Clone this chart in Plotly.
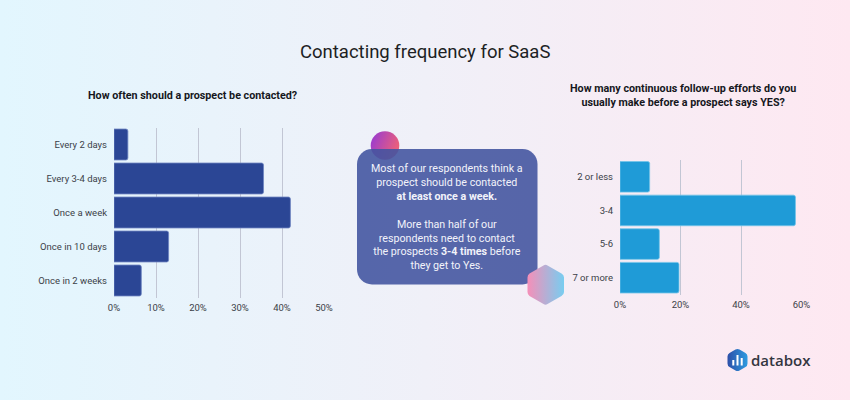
import base64
import plotly.graph_objects as go

W, H = 850, 400
left_categories = ["Every 2 days", "Every 3-4 days", "Once a week", "Once in 10 days", "Once in 2 weeks"]
left_values = [3.3, 35.6, 42, 13, 6.5]
right_categories = ["2 or less", "3-4", "5-6", "7 or more"]
right_values = [9.8, 58, 13, 19.5]
title = "Contacting frequency for SaaS"
left_title = "How often should a prospect be contacted?"
right_title = "How many continuous follow-up efforts do you<br>usually make before a prospect says YES?"
callout = ("Most of our respondents think a<br>prospect should be contacted<br><b>at least once a week.</b><br><br>"
           "More than half of our<br>respondents need to contact<br>the prospects <b>3-4 times</b> before<br>they get to Yes.")

svg = f'''<svg xmlns="http://www.w3.org/2000/svg" width="{W*2}" height="{H*2}" viewBox="0 0 {W} {H}">
<defs>
<linearGradient id="bg" x1="0" x2="1" y1="0" y2="0"><stop offset="0" stop-color="#e2f6fe"/><stop offset="0.5" stop-color="#f0f0f8"/><stop offset="1" stop-color="#fee8f1"/></linearGradient>
<linearGradient id="c" x1="0" x2="1" y1="0" y2="0.4"><stop offset="0" stop-color="#9238d8"/><stop offset="1" stop-color="#ea5f7c"/></linearGradient>
<linearGradient id="h" x1="0" x2="1" y1="0" y2="0"><stop offset="0" stop-color="#f58fb8"/><stop offset="1" stop-color="#78cdf0"/></linearGradient>
<linearGradient id="l" x1="0" x2="1" y1="0" y2="0"><stop offset="0" stop-color="#2d4fa8"/><stop offset="1" stop-color="#2d9be0"/></linearGradient>
</defs>
<rect width="{W}" height="{H}" fill="url(#bg)"/>
<circle cx="385" cy="145.5" r="14.3" fill="url(#c)"/>
<rect x="357" y="149" width="180.5" height="135.5" rx="15" fill="#42549f" fill-opacity="0.89"/>
<path d="M543.5 265.5 Q545.5 264 547.5 265.5 L561.5 273.5 Q564 275 564 277.5 L564 292 Q564 294.5 561.5 296 L547.5 304 Q545.5 305.5 543.5 304 L529.5 296 Q527.5 294.5 527.5 292 L527.5 277.5 Q527.5 275 529.5 273.5 Z" fill="url(#h)"/>
<path d="M735.5 349.5 Q737.5 348.5 739.5 349.5 L745.5 353 Q747.5 354 747.5 356.5 L747.5 363.5 Q747.5 366 745.5 367 L739.5 370.5 Q737.5 371.5 735.5 370.5 L729.5 367 Q727.5 366 727.5 363.5 L727.5 356.5 Q727.5 354 729.5 353 Z" fill="url(#l)"/>
<rect x="732.3" y="360" width="2" height="5.5" fill="#fff"/><rect x="736.5" y="355" width="2" height="10.5" fill="#fff"/><rect x="740.7" y="358" width="2" height="7.5" fill="#fff"/>
</svg>'''
src = "data:image/svg+xml;base64," + base64.b64encode(svg.encode()).decode()

px = lambda x: x / W
py = lambda y: 1 - y / H
FONT = "Roboto"
grid = "#c2c6d4"

fig = go.Figure()
fig.add_trace(go.Bar(x=left_values, y=left_categories, orientation="h", xaxis="x", yaxis="y",
                     marker=dict(color="#2b4695", line=dict(color="#6d84c0", width=0.8), cornerradius=2)))
fig.add_trace(go.Bar(x=right_values, y=right_categories, orientation="h", xaxis="x2", yaxis="y2",
                     marker=dict(color="#1f9bd7", line=dict(color="#74c4e9", width=0.8), cornerradius=2)))

xcommon = dict(showgrid=True, gridcolor=grid, gridwidth=1.3, zeroline=False, showline=False, ticksuffix="%",
               tickfont=dict(family=FONT, size=9.5, color="#3c3f48"), ticks="", ticklabelstandoff=3)
ycommon = dict(autorange="reversed", showgrid=False, zeroline=False, showline=False, ticks="",
               tickfont=dict(family=FONT, size=9.5, color="#3c3f48"), ticklabelstandoff=6)

def label(text, x, y, size, color="#15171c", bold=False, **kw):
    return dict(text=f"<b>{text}</b>" if bold else text, x=px(x), y=py(y), xref="paper", yref="paper",
                xanchor="center", yanchor="middle", showarrow=False, font=dict(family=FONT, size=size, color=color), **kw)

fig.update_layout(
    width=W, height=H, autosize=False, margin=dict(l=0, r=0, t=0, b=0, autoexpand=False), showlegend=False,
    paper_bgcolor="rgba(0,0,0,0)", plot_bgcolor="rgba(0,0,0,0)", bargap=0.09,
    xaxis=dict(domain=[px(114), px(324)], range=[0, 50], dtick=10, anchor="y", automargin=False, **xcommon),
    yaxis=dict(domain=[py(297.5), py(127.5)], anchor="x", automargin=False, **ycommon),
    xaxis2=dict(domain=[px(620), px(801.5)], range=[0, 60], dtick=20, anchor="y2", automargin=False, **xcommon),
    yaxis2=dict(domain=[py(294.5), py(160)], anchor="x2", automargin=False, **ycommon),
    images=[dict(source=src, xref="paper", yref="paper", x=0, y=1, sizex=1, sizey=1,
                 sizing="stretch", xanchor="left", yanchor="top", layer="below")],
    annotations=[
        label(title, 425, 51.5, 18.5, "#1d1f24"),
        label(left_title, 192.5, 95, 10.75, bold=True),
        label(right_title, 682.5, 95.5, 10.75, bold=True),
        label(callout, 447, 217, 10.7, "#f2f3fa"),
        dict(text="databox", x=px(749), y=py(360), xref="paper", yref="paper", xanchor="left", yanchor="middle",
             showarrow=False, font=dict(family="Open Sans", size=15, color="#33363f", weight=600)),
    ],
)
fig.write_html("out.html", config=dict(displayModeBar=False),
               post_script="document.body.style.margin='0';document.documentElement.style.overflow='hidden';")
